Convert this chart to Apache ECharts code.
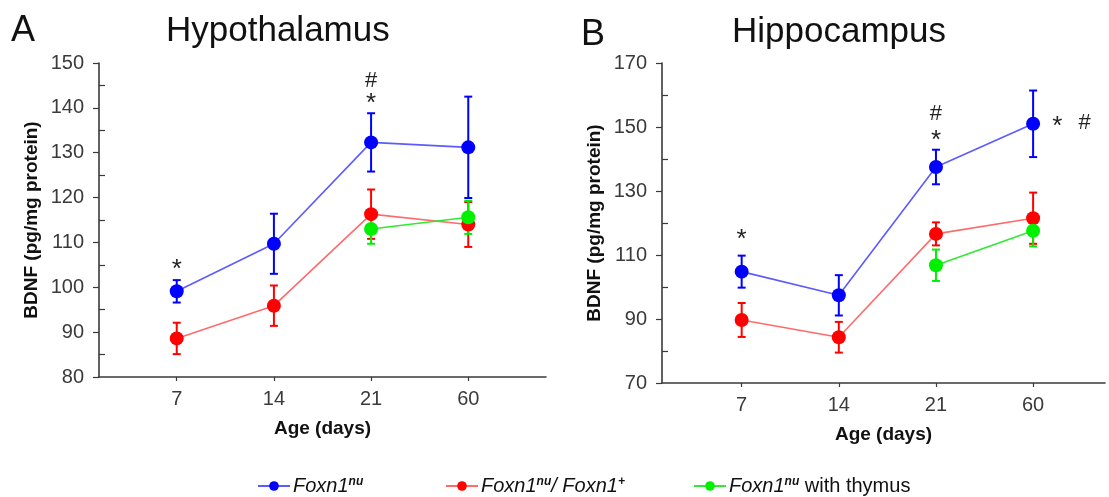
<!DOCTYPE html>
<html>
<head>
<meta charset="utf-8">
<title>BDNF levels</title>
<script src="https://cdn.jsdelivr.net/npm/echarts@6/dist/echarts.min.js"></script>
<style>
  html, body { margin: 0; padding: 0; background: #fff; }
  #chart { width: 1109px; height: 497px; }
</style>
</head>
<body>
<div id="chart"></div>
<script>
// Age groups (days)
const ages = ['7', '14', '21', '60'];

// Hypothalamus BDNF, pg/mg protein (mean and SEM)
const hypoNu = [99.1, 109.7, 132.3, 131.2];
const hypoNuErr = [2.5, 6.7, 6.5, 11.3];
const hypoHet = [88.6, 95.9, 116.3, 114.0];
const hypoHetErr = [3.5, 4.5, 5.5, 5.0];
const hypoThy = [null, null, 113.0, 115.6];
const hypoThyErr = [null, null, 3.3, 3.7];

// Hippocampus BDNF, pg/mg protein (mean and SEM)
const hippoNu = [104.8, 97.4, 137.5, 151.0];
const hippoNuErr = [5.0, 6.3, 5.4, 10.4];
const hippoHet = [89.7, 84.3, 116.6, 121.5];
const hippoHetErr = [5.3, 4.8, 3.6, 8.0];
const hippoThy = [null, null, 106.8, 117.6];
const hippoThyErr = [null, null, 4.9, 4.9];

// Significance marks: [x position (age index), y value, symbol]
const hypoMarks = [[0, 103.8, '*'], [2, 145.9, '#'], [2, 140.8, '*']];
const hippoMarks = [[0, 114.8, '*'], [2, 154.0, '#'], [2, 145.8, '*'], [3.25, 150.0, '*'], [3.53, 151.3, '#']];

const NAME_NU = 'Foxn1nu';
const NAME_HET = 'Foxn1nu/Foxn1+';
const NAME_THY = 'Foxn1nu with thymus';

const FONT = '"Liberation Sans", Arial, sans-serif';
const AXIS_COLOR = '#3a3a3a';

const groups = [
  { name: NAME_NU, marker: '#0000ff', line: '#5b5bff' },
  { name: NAME_HET, marker: '#ff0000', line: '#ff6b6b' },
  { name: NAME_THY, marker: '#00f000', line: '#33e833' }
];

function points(values) {
  const out = [];
  values.forEach((v, i) => { if (v != null) out.push([i, v]); });
  return out;
}
function bars(values, errs) {
  const out = [];
  values.forEach((v, i) => { if (v != null) out.push([i, v - errs[i], v + errs[i]]); });
  return out;
}

function errorSeries(idx, data, color) {
  return {
    type: 'custom',
    xAxisIndex: idx, yAxisIndex: idx,
    silent: true,
    z: 3,
    data: data,
    renderItem: function (params, api) {
      const x = api.value(0);
      const lo = api.coord([x, api.value(1)]);
      const hi = api.coord([x, api.value(2)]);
      const cap = 4;
      const style = { stroke: color, lineWidth: 2 };
      return {
        type: 'group',
        children: [
          { type: 'line', shape: { x1: hi[0], y1: hi[1], x2: lo[0], y2: lo[1] }, style: style },
          { type: 'line', shape: { x1: hi[0] - cap, y1: hi[1], x2: hi[0] + cap, y2: hi[1] }, style: style },
          { type: 'line', shape: { x1: lo[0] - cap, y1: lo[1], x2: lo[0] + cap, y2: lo[1] }, style: style }
        ]
      };
    }
  };
}

function lineSeries(idx, g, values) {
  return {
    type: 'line',
    name: g.name,
    xAxisIndex: idx, yAxisIndex: idx,
    data: points(values),
    symbol: 'circle',
    symbolSize: 14,
    z: 4,
    lineStyle: { color: g.line, width: 1.6 },
    itemStyle: { color: g.marker },
    emphasis: { disabled: true },
    animation: false
  };
}

// Text marks are drawn by a custom series anchored at data coordinates
function markSeries(idx, marks) {
  return {
    type: 'custom',
    xAxisIndex: idx, yAxisIndex: idx,
    silent: true,
    z: 6,
    data: marks.map(m => [m[0], m[1]]),
    renderItem: function (params, api) {
      const p = api.coord([api.value(0), api.value(1)]);
      const sym = marks[params.dataIndex][2];
      return {
        type: 'text',
        x: p[0], y: p[1],
        style: {
          text: sym,
          fill: '#222',
          font: (sym === '*' ? '26px ' : '22px ') + FONT,
          align: 'center',
          verticalAlign: 'middle'
        }
      };
    },
    animation: false
  };
}

function xAxis(idx, min, max) {
  return {
    type: 'value',
    gridIndex: idx,
    min: min, max: max,
    splitLine: { show: false },
    axisLine: { show: true, onZero: false, lineStyle: { color: AXIS_COLOR, width: 1.6 } },
    axisTick: { show: true, customValues: [0, 1, 2, 3], length: 4, lineStyle: { color: AXIS_COLOR, width: 1.2 } },
    axisLabel: {
      customValues: [0, 1, 2, 3],
      formatter: v => ages[v],
      color: '#3a3a3a', fontFamily: FONT, fontSize: 20, margin: 12
    },
    name: 'Age (days)',
    nameLocation: 'middle',
    nameGap: 42,
    nameTextStyle: { color: '#111', fontFamily: FONT, fontSize: 19, fontWeight: 'bold' }
  };
}

function yAxis(idx, min, max, interval, gap) {
  return {
    type: 'value',
    gridIndex: idx,
    min: min, max: max, interval: interval,
    splitLine: { show: false },
    axisLine: { show: true, onZero: false, lineStyle: { color: AXIS_COLOR, width: 1.6 } },
    axisTick: { show: true, length: 6, lineStyle: { color: AXIS_COLOR, width: 1.2 } },
    minorTick: { show: true, splitNumber: 2, length: -6, lineStyle: { color: AXIS_COLOR, width: 1.2 } },
    axisLabel: { color: '#3a3a3a', fontFamily: FONT, fontSize: 20, margin: 15 },
    name: 'BDNF (pg/mg protein)',
    nameLocation: 'middle',
    nameGap: gap,
    nameTextStyle: { color: '#111', fontFamily: FONT, fontSize: 19, fontWeight: 'bold' }
  };
}

const legendRich = {
  a: { fontFamily: FONT, fontSize: 20, fontStyle: 'italic', color: '#111', verticalAlign: 'middle' },
  s: { fontFamily: FONT, fontSize: 12, fontStyle: 'italic', fontWeight: 'bold', color: '#111', verticalAlign: 'top' },
  b: { fontFamily: FONT, fontSize: 20, color: '#111', verticalAlign: 'middle' }
};
const legendText = {
  [NAME_NU]: '{a|Foxn1}{s|nu}',
  [NAME_HET]: '{a|Foxn1}{s|nu}{a|/ Foxn1}{s|+}',
  [NAME_THY]: '{a|Foxn1}{s|nu}{b| with thymus}'
};
function legend(name, left) {
  return {
    data: [name],
    left: left,
    top: 476,
    itemWidth: 32,
    itemHeight: 12,
    itemGap: 0,
    selectedMode: false,
    padding: 0,
    formatter: n => legendText[n],
    textStyle: { fontFamily: FONT, fontSize: 20, color: '#111', rich: legendRich, padding: [0, 0, 0, -2] }
  };
}

const chart = echarts.init(document.getElementById('chart'), null, { renderer: 'canvas' });

chart.setOption({
  backgroundColor: '#ffffff',
  animation: false,
  title: [
    { text: 'A', left: 11, top: 13, padding: 0, textStyle: { fontFamily: FONT, fontSize: 36, fontWeight: 'normal', color: '#111' } },
    { text: 'Hypothalamus', left: 166, top: 14, padding: 0, textStyle: { fontFamily: FONT, fontSize: 35, fontWeight: 'normal', color: '#111' } },
    { text: 'B', left: 581, top: 17, padding: 0, textStyle: { fontFamily: FONT, fontSize: 36, fontWeight: 'normal', color: '#111' } },
    { text: 'Hippocampus', left: 732, top: 15, padding: 0, textStyle: { fontFamily: FONT, fontSize: 35, fontWeight: 'normal', color: '#111' } }
  ],
  legend: [legend(NAME_NU, 257), legend(NAME_HET, 445), legend(NAME_THY, 693)],
  grid: [
    { left: 99, top: 63, width: 447, height: 314 },
    { left: 662, top: 63, width: 443, height: 320 }
  ],
  xAxis: [xAxis(0, -0.8, 3.8), xAxis(1, -0.82, 3.74)],
  yAxis: [yAxis(0, 80, 150, 10, 58), yAxis(1, 70, 170, 20, 58)],
  series: [
    errorSeries(0, bars(hypoNu, hypoNuErr), groups[0].marker),
    errorSeries(0, bars(hypoHet, hypoHetErr), groups[1].marker),
    errorSeries(0, bars(hypoThy, hypoThyErr), groups[2].marker),
    lineSeries(0, groups[0], hypoNu),
    lineSeries(0, groups[1], hypoHet),
    lineSeries(0, groups[2], hypoThy),
    markSeries(0, hypoMarks),
    errorSeries(1, bars(hippoNu, hippoNuErr), groups[0].marker),
    errorSeries(1, bars(hippoHet, hippoHetErr), groups[1].marker),
    errorSeries(1, bars(hippoThy, hippoThyErr), groups[2].marker),
    lineSeries(1, groups[0], hippoNu),
    lineSeries(1, groups[1], hippoHet),
    lineSeries(1, groups[2], hippoThy),
    markSeries(1, hippoMarks)
  ]
});
</script>
</body>
</html>
